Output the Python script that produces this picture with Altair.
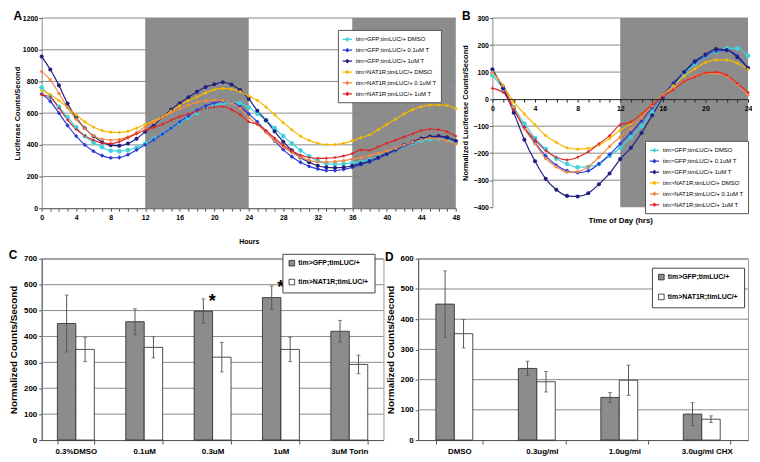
import altair as alt
import pandas as pd

FONT = "Liberation Sans"

# ---------------- Panel A / B data ----------------
hours_a = list(range(49))
hours_b = list(range(25))
names = ["tim>GFP;timLUC/+ DMSO", "tim>GFP;timLUC/+ 0.1uM T", "tim>GFP;timLUC/+ 1uM T",
         "tim>NAT1R;timLUC/+ DMSO", "tim>NAT1R;timLUC/+ 0.1uM T", "tim>NAT1R;timLUC/+ 1uM T"]
colors = ["#3fd3dc", "#2d3cd6", "#202080", "#f5b800", "#f08a46", "#e0282a"]
shapes = ["circle", "diamond", "circle", "diamond", "circle", "cross"]
sizes = [22, 9, 7, 24, 8, 10]

a_gfp_dmso = [762, 705, 640, 575, 510, 455, 415, 385, 363, 360, 367, 383, 408,
              438, 470, 505, 540, 572, 602, 630, 650, 662, 668, 662, 637,
              596, 554, 505, 455, 408, 365, 328, 298, 282, 278, 280, 286,
              293, 305, 322, 345, 368, 390, 410, 425, 435, 437, 430, 415]
a_gfp_01 = [720, 675, 600, 522, 455, 400, 360, 332, 318, 320, 338, 368, 400,
            432, 468, 505, 545, 582, 618, 645, 665, 675, 668, 640, 595,
            545, 485, 425, 370, 325, 290, 264, 248, 238, 238, 245, 258,
            275, 292, 315, 340, 365, 392, 415, 435, 448, 450, 440, 422]
a_gfp_1 = [957, 875, 775, 660, 572, 505, 455, 418, 398, 394, 408, 438, 482,
           525, 575, 622, 662, 700, 735, 765, 782, 795, 780, 745, 690,
           615, 555, 485, 420, 365, 320, 290, 268, 258, 255, 258, 268,
           282, 298, 320, 345, 370, 398, 420, 440, 452, 455, 448, 425]
a_nat_dmso = [742, 718, 680, 635, 588, 545, 512, 490, 480, 478, 485, 505, 530,
              550, 578, 612, 648, 678, 702, 728, 748, 756, 752, 735, 708,
              680, 638, 590, 540, 495, 455, 428, 410, 402, 402, 410, 425,
              445, 462, 495, 528, 562, 595, 622, 640, 650, 652, 648, 628]
a_nat_01 = [862, 810, 725, 635, 562, 502, 458, 435, 430, 434, 450, 478, 512,
            540, 572, 602, 628, 650, 668, 678, 683, 680, 665, 630, 572,
            530, 478, 428, 388, 350, 322, 303, 292, 292, 294, 300, 310,
            320, 332, 345, 360, 378, 398, 418, 432, 442, 438, 425, 405]
a_nat_1 = [717, 700, 632, 558, 498, 458, 430, 412, 408, 420, 445, 470, 492,
           510, 530, 555, 578, 595, 610, 628, 640, 642, 622, 590, 545,
           530, 490, 442, 398, 362, 335, 320, 315, 315, 320, 330, 345,
           368, 365, 388, 410, 430, 450, 470, 490, 500, 496, 482, 455]
a_series = [a_gfp_dmso, a_gfp_01, a_gfp_1, a_nat_dmso, a_nat_01, a_nat_1]

b_gfp_dmso = [88, 38, -30, -90, -145, -185, -220, -240, -252, -250, -240, -210, -180,
              -140, -100, -50, 5, 50, 95, 130, 160, 175, 188, 188, 160]
b_gfp_01 = [108, 40, -35, -105, -160, -210, -245, -265, -272, -265, -240, -205, -165,
            -125, -80, -30, 15, 60, 100, 135, 160, 178, 180, 160, 115]
b_gfp_1 = [110, 40, -50, -150, -230, -295, -335, -358, -360, -348, -315, -275, -222,
           -180, -125, -60, 5, 55, 100, 140, 165, 185, 182, 155, 115]
b_nat_dmso = [95, 50, -10, -55, -95, -135, -160, -180, -185, -182, -170, -145, -115,
              -90, -55, -20, 15, 50, 85, 112, 135, 145, 145, 133, 110]
b_nat_01 = [100, 50, -30, -110, -165, -220, -250, -270, -268, -250, -215, -175, -140,
            -110, -70, -25, 15, 40, 65, 85, 95, 95, 85, 55, 15]
b_nat_1 = [40, 25, -40, -105, -150, -190, -215, -225, -215, -195, -165, -135, -95,
           -85, -55, -20, 10, 35, 65, 82, 97, 100, 88, 58, 25]
b_series = [b_gfp_dmso, b_gfp_01, b_gfp_1, b_nat_dmso, b_nat_01, b_nat_1]

dark_a_start = [12, 36]
dark_a_end = [24, 48]
dark_b_start = [12]
dark_b_end = [24]
grid_a = [200, 400, 600, 800, 1000, 1200]
grid_b = [-300, -200, -100, 100, 200, 300]
yticks_a = [0, 200, 400, 600, 800, 1000, 1200]
yticks_b = [-400, -300, -200, -100, 0, 100, 200, 300]

# ---------------- Panel C / D data ----------------
geno = ["tim>GFP;timLUC/+", "tim>NAT1R;timLUC/+"]
c_cats = ["0.3%DMSO", "0.1uM", "0.3uM", "1uM", "3uM Torin"]
c_gfp = [450, 457, 498, 550, 420]
c_gfp_err = [110, 50, 47, 45, 42]
c_nat = [350, 358, 320, 350, 292]
c_nat_err = [47, 41, 57, 47, 36]
c_star_cats = ["0.3uM", "1uM"]
c_star_vals = [550, 603]
d_cats = ["DMSO", "0.3ug/ml", "1.0ug/ml", "3.0ug/ml CHX"]
d_gfp = [450, 237, 141, 86]
d_gfp_err = [110, 24, 16, 38]
d_nat = [352, 193, 198, 69]
d_nat_err = [47, 34, 50, 11]
grid_c = [100, 200, 300, 400, 500, 600, 700]
grid_d = [100, 200, 300, 400, 500, 600]

GRID = "#8a8a8a"
DARK = "#8c8c8c"


def title_params(letter):
    return alt.TitleParams(letter, anchor="start", frame="bounds", font="Arial", fontSize=12,
                           fontWeight="bold", offset=-9, color="black")


def line_panel(series, hours, ds, de, grid, yticks, ydom, W, H, xaxis, yaxis, legx, legy, letter):
    rows = []
    for i, ser in enumerate(series):
        for h, v in zip(hours, ser):
            rows.append({"t": h, "v": v, "s": names[i], "m": names[i] + " "})
    df = pd.DataFrame(rows)
    mnames = [n + " " for n in names]
    xs = alt.Scale(domain=[hours[0], hours[-1]], nice=False, zero=False)
    ys = alt.Scale(domain=ydom, nice=False, zero=False)
    rect = alt.Chart(pd.DataFrame({"s0": ds, "s1": de})).mark_rect(color=DARK).encode(
        x=alt.X("s0:Q", scale=xs, axis=xaxis), x2="s1:Q")
    gr = alt.Chart(pd.DataFrame({"g": grid})).mark_rule(color=GRID, strokeWidth=1).encode(
        y=alt.Y("g:Q", scale=ys, axis=yaxis))
    lines = alt.Chart(df).mark_line(strokeWidth=1.2, interpolate="monotone").encode(
        x=alt.X("t:Q", scale=xs, axis=xaxis),
        y=alt.Y("v:Q", scale=ys, axis=yaxis),
        color=alt.Color("s:N", scale=alt.Scale(domain=names, range=colors), sort=names,
                        legend=alt.Legend(
            title=None, orient="none", legendX=legx, legendY=legy, fillColor="white",
            strokeColor="#555", padding=4, labelFont=FONT, labelFontSize=6, labelColor="black",
            symbolType="M-1,0L1,0M0,-0.3L0.3,0L0,0.3L-0.3,0Z", symbolSize=90,
            symbolStrokeWidth=1.3, rowPadding=1, labelOffset=3)),
        detail="s:N")
    pts = alt.Chart(df).mark_point(filled=True, opacity=1).encode(
        x=alt.X("t:Q", scale=xs, axis=xaxis),
        y=alt.Y("v:Q", scale=ys, axis=yaxis),
        fill=alt.Fill("m:N", scale=alt.Scale(domain=mnames, range=colors), legend=None),
        shape=alt.Shape("m:N", scale=alt.Scale(domain=mnames, range=shapes), legend=None),
        size=alt.Size("m:O", scale=alt.Scale(domain=mnames, range=sizes), legend=None))
    return alt.layer(rect, gr, lines, pts).properties(width=W, height=H, title=title_params(letter))


lab = dict(labelFont=FONT, labelFontWeight="bold", labelColor="black",
           titleFont=FONT, titleFontWeight="bold", titleColor="black")

xaxis_a = alt.Axis(title="Hours", values=hours_a,
                   labelExpr="datum.value % 4 == 0 ? datum.label : ''",
                   grid=False, tickSize=3, tickColor="#555", domainColor="#444",
                   labelFontSize=7, titleFontSize=7, labelPadding=2, titlePadding=18,
                   labelOverlap=False, labelFlush=False, **lab)
yaxis_a = alt.Axis(title="Luciferase Counts/Second", values=yticks_a, format="d", grid=False,
                   tickSize=3, tickColor="#555", domainColor="#888", labelFontSize=7,
                   titleFontSize=7.5, labelPadding=1, titlePadding=1, labelOverlap=False, **lab)

H_B = 191
zero_off = -H_B * 400 / 700
xaxis_b = alt.Axis(title="Time of Day (hrs)", values=hours_b,
                   labelExpr="datum.value % 4 == 0 ? datum.label : ''",
                   grid=False, tickSize=3, tickColor="#222", domainColor="#222",
                   offset=zero_off, titleY=-zero_off + 9, titleBaseline="top", zindex=1,
                   labelFontSize=7, titleFontSize=8, labelPadding=2,
                   labelOverlap=False, labelFlush=False, **lab)
yaxis_b = alt.Axis(title="Normalized Luciferase Counts/Second", values=yticks_b, format="d",
                   grid=False, tickSize=3, tickColor="#555", domainColor="#888", labelFontSize=7,
                   titleFontSize=7.5, labelPadding=1, titlePadding=3, labelOverlap=False, **lab)

A = line_panel(a_series, hours_a, dark_a_start, dark_a_end, grid_a, yticks_a, [0, 1200],
               418, 192, xaxis_a, yaxis_a, 299, 12, "A")
B = line_panel(b_series, hours_b, dark_b_start, dark_b_end, grid_b, yticks_b, [-400, 300],
               258, H_B, xaxis_b, yaxis_b, 154, 124, "B")


def bar_panel(cats, gfp, gerr, nat, nerr, ydom, grid, W, H, pin, legx, legy, letter, rowpad,
              star_cats=None, star_vals=None):
    rows = []
    for c, g, ge, n, ne in zip(cats, gfp, gerr, nat, nerr):
        rows.append({"c": c, "g": geno[0], "v": g, "lo": g - ge, "hi": g + ge})
        rows.append({"c": c, "g": geno[1], "v": n, "lo": n - ne, "hi": n + ne})
    df = pd.DataFrame(rows)
    xs = alt.Scale(domain=cats, paddingInner=pin, paddingOuter=pin / 2)
    ys = alt.Scale(domain=ydom, nice=False)
    xax = alt.Axis(title=None, labelAngle=0, tickBand="extent", tickSize=4, tickColor="#555",
                   domainColor="#555", labelFontSize=8, labelPadding=4, **lab)
    yax = alt.Axis(title="Normalized Counts/Second", values=[0] + grid, grid=False, tickSize=3,
                   tickColor="#555", domainColor="#555", labelFontSize=8, titleFontSize=10,
                   labelPadding=2, titlePadding=5, **lab)
    xo = alt.XOffset("g:N", sort=geno, scale=alt.Scale(domain=geno))
    X = alt.X("c:N", scale=xs, axis=xax, sort=cats)
    gr = alt.Chart(pd.DataFrame({"gv": grid})).mark_rule(color=GRID, strokeWidth=1).encode(
        y=alt.Y("gv:Q", scale=ys, axis=yax))
    bars = alt.Chart(df).mark_bar(stroke="#222", strokeWidth=0.8).encode(
        x=X, xOffset=xo, y=alt.Y("v:Q", scale=ys, axis=yax),
        color=alt.Color("g:N", scale=alt.Scale(domain=geno, range=["#8c8c8c", "#ffffff"]),
                        legend=alt.Legend(title=None, orient="none", legendX=legx, legendY=legy,
                                          fillColor="white", strokeColor="#444", padding=6,
                                          labelFont=FONT, labelFontWeight="bold",
                                          labelFontSize=7, labelColor="black",
                                          symbolType="square", symbolSize=32,
                                          symbolStrokeColor="#222", symbolStrokeWidth=0.8,
                                          rowPadding=rowpad, labelOffset=3)))
    err = alt.Chart(df).mark_rule(color="#555", strokeWidth=1).encode(
        x=X, xOffset=xo, y=alt.Y("lo:Q", scale=ys, axis=yax), y2="hi:Q")
    cap_lo = alt.Chart(df).mark_tick(color="#555", thickness=1, size=4, orient="horizontal").encode(
        x=X, xOffset=xo, y=alt.Y("lo:Q", scale=ys, axis=yax))
    cap_hi = alt.Chart(df).mark_tick(color="#555", thickness=1, size=4, orient="horizontal").encode(
        x=X, xOffset=xo, y=alt.Y("hi:Q", scale=ys, axis=yax))
    layers = [gr, bars, err, cap_lo, cap_hi]
    if star_cats:
        sdf = pd.DataFrame({"c": star_cats, "g": [geno[0]] * len(star_cats), "v": star_vals})
        stars = alt.Chart(sdf).mark_text(text="*", font=FONT, fontSize=18, fontWeight="bold",
                                         baseline="middle", dy=4, dx=9, color="black").encode(
            x=X, xOffset=xo, y=alt.Y("v:Q", scale=ys, axis=yax))
        layers.append(stars)
    return alt.layer(*layers).properties(
        width=W, height=H, title=title_params(letter),
        view=alt.ViewBackground(stroke="#999", strokeWidth=1))


C = bar_panel(c_cats, c_gfp, c_gfp_err, c_nat, c_nat_err, [0, 700], grid_c, 345, 183, 0.46,
              243, -5, "C", 10, c_star_cats, c_star_vals)
D = bar_panel(d_cats, d_gfp, d_gfp_err, d_nat, d_nat_err, [0, 600], grid_d, 333, 183, 0.43,
              236, 9, "D", 11)

indep = dict(color="independent", fill="independent", shape="independent", size="independent")
row1 = alt.hconcat(A, B, spacing=37, bounds="flush").resolve_scale(**indep).resolve_legend(
    color="independent")
row2 = alt.hconcat(C, D, spacing=35, bounds="flush").resolve_scale(color="independent").resolve_legend(
    color="independent")
chart = alt.vconcat(row1, row2, spacing=4).resolve_scale(**indep).resolve_legend(
    color="independent").properties(
    padding={"left": 0, "top": 0, "right": 0, "bottom": 0},
    background="white",
).configure_view(strokeWidth=0)

chart.save("out.html", embed_options={"renderer": "svg", "actions": False})
